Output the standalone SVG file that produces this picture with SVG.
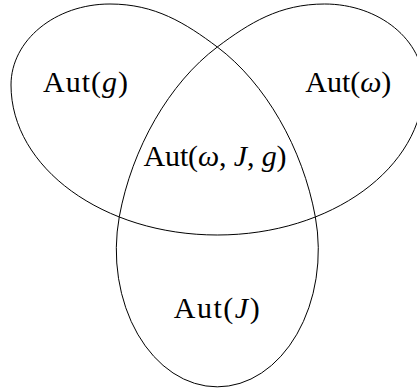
<svg xmlns="http://www.w3.org/2000/svg" width="417" height="389" viewBox="0 0 417 389">
  <style>
    .curve { fill: none; stroke: #000; stroke-width: 1; stroke-linejoin: round; }
    .lbl { font-family: "Liberation Serif", "DejaVu Serif", serif; font-size: 30px; fill: #000; text-anchor: middle; }
    .it { font-style: italic; }
  </style>
  <rect x="0" y="0" width="417" height="389" fill="#fff"/>
  <g id="curves">
    <path id="outer-loop" class="curve" d="M217.3,47 C185.3,23 155,4 110,4 C55.3,4 11,40.3 11,85 C11,167.8 103.5,235 217.3,235 C331.1,235 423.6,167.8 423.6,85 C423.6,40.3 379.3,4 324.6,4 C279.6,4 249.3,23 217.3,47 Z"/>
    <path id="inner-loop" class="curve" d="M217.3,47 C169.3,83 131.9,148.1 119.3,216.7 A101,137 0 1 0 315.3,216.7 C302.7,148.1 265.3,83 217.3,47 Z"/>
  </g>
  <g id="label-aut-g">
    <text class="lbl" x="85.5" y="92" textLength="85" lengthAdjust="spacing">Aut(<tspan class="it">g</tspan>)</text>
  </g>
  <g id="label-aut-omega">
    <text class="lbl" x="348.3" y="92" textLength="86" lengthAdjust="spacing">Aut(<tspan class="it">ω</tspan>)</text>
  </g>
  <g id="label-aut-all">
    <text class="lbl" x="215" y="166" textLength="143" lengthAdjust="spacing">Aut(<tspan class="it">ω</tspan>, <tspan class="it">J</tspan>, <tspan class="it">g</tspan>)</text>
  </g>
  <g id="label-aut-j">
    <text class="lbl" x="216.7" y="318.3" textLength="86" lengthAdjust="spacing">Aut(<tspan class="it">J</tspan>)</text>
  </g>
</svg>
